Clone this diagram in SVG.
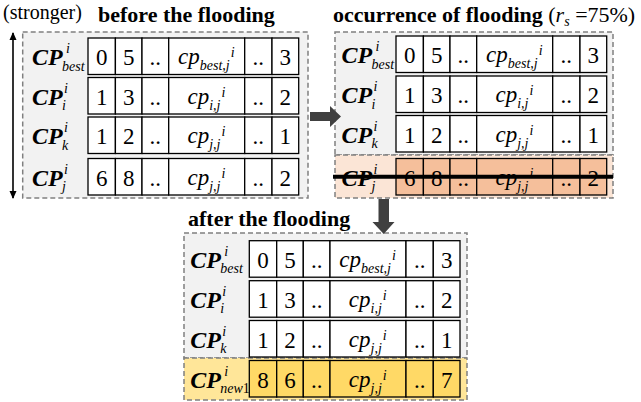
<svg xmlns="http://www.w3.org/2000/svg" xmlns:xlink="http://www.w3.org/1999/xlink" width="641" height="402" viewBox="0 0 641 402">
<style>
text{font-family:"Liberation Serif","Times New Roman",serif;fill:#000}
.t{font-size:22px;font-weight:bold}
.r{font-size:20px;font-weight:normal}
.n{font-size:23px;text-anchor:middle;font-weight:normal}
.CP{font-size:24px;font-weight:bold;font-style:italic}
.s{font-size:14px;font-style:italic;font-weight:normal}
.it{font-size:23px;font-style:italic;font-weight:normal}
.ss{font-size:14px}
.box{stroke:#808080;stroke-width:1.5;stroke-dasharray:5 3}
.ar{fill:#404040}
</style>
<defs>
<g id="cells" stroke="#000" stroke-width="1.3">
<rect x="0" y="0" width="27.4" height="36.5"/>
<rect x="27.4" y="0" width="26.6" height="36.5"/>
<rect x="54" y="0" width="26.7" height="36.5"/>
<rect x="80.7" y="0" width="76" height="36.5"/>
<rect x="156.7" y="0" width="27.3" height="36.5"/>
<rect x="184" y="0" width="26.7" height="36.5"/>
</g>
<marker id="ah" viewBox="0 0 8 8" refX="7" refY="4" markerWidth="8" markerHeight="8" markerUnits="userSpaceOnUse" orient="auto-start-reverse"><path d="M0,0.5 L8,4 L0,7.5 Z" fill="#000"/></marker>
</defs>

<text class="r" x="3" y="19">(stronger)</text>
<text class="t" x="98" y="22">before the flooding</text>
<text class="t" x="333" y="22">occurrence of flooding <tspan font-weight="normal">(<tspan font-style="italic">r</tspan><tspan font-style="italic" font-size="14" dy="4">s</tspan><tspan dy="-4"> =75%)</tspan></tspan></text>
<text class="t" x="188" y="226">after the flooding</text>

<g id="panel-before">
<rect class="box" x="22.7" y="32" width="285.3" height="166" fill="#f2f2f2"/>
<g id="b-best" transform="translate(88,38)">
<use xlink:href="#cells" fill="#fff"/>
<text class="CP" x="-56" y="27">CP</text><text class="s" x="-22" y="15">i</text><text class="s" x="-26" y="32.5">best</text>
<text class="n" x="13.7" y="27">0</text><text class="n" x="40.7" y="27">5</text><text class="n" x="67.35" y="27">..</text>
<text class="it" x="90" y="26">cp<tspan class="ss" dy="6">best,j</tspan><tspan class="ss" dx="1" dy="-13">i</tspan></text>
<text class="n" x="170.35" y="27">..</text><text class="n" x="197.35" y="27">3</text>
</g>
<g id="b-i" transform="translate(88,77.5)">
<use xlink:href="#cells" fill="#fff"/>
<text class="CP" x="-56" y="27">CP</text><text class="s" x="-24" y="15">i</text><text class="s" x="-26" y="32.5">i</text>
<text class="n" x="13.7" y="27">1</text><text class="n" x="40.7" y="27">3</text><text class="n" x="67.35" y="27">..</text>
<text class="it" x="99.5" y="26">cp<tspan class="ss" dy="6">i,j</tspan><tspan class="ss" dx="1" dy="-13">i</tspan></text>
<text class="n" x="170.35" y="27">..</text><text class="n" x="197.35" y="27">2</text>
</g>
<g id="b-k" transform="translate(88,117)">
<use xlink:href="#cells" fill="#fff"/>
<text class="CP" x="-56" y="27">CP</text><text class="s" x="-24" y="15">i</text><text class="s" x="-26" y="32.5">k</text>
<text class="n" x="13.7" y="27">1</text><text class="n" x="40.7" y="27">2</text><text class="n" x="67.35" y="27">..</text>
<text class="it" x="99.5" y="26">cp<tspan class="ss" dy="6">j,j</tspan><tspan class="ss" dx="1" dy="-13">i</tspan></text>
<text class="n" x="170.35" y="27">..</text><text class="n" x="197.35" y="27">1</text>
</g>
<g id="b-j" transform="translate(88,158.5)">
<use xlink:href="#cells" fill="#fff"/>
<text class="CP" x="-56" y="27">CP</text><text class="s" x="-24" y="15">i</text><text class="s" x="-26" y="32.5">j</text>
<text class="n" x="13.7" y="27">6</text><text class="n" x="40.7" y="27">8</text><text class="n" x="67.35" y="27">..</text>
<text class="it" x="99.5" y="26">cp<tspan class="ss" dy="6">j,j</tspan><tspan class="ss" dx="1" dy="-13">i</tspan></text>
<text class="n" x="170.35" y="27">..</text><text class="n" x="197.35" y="27">2</text>
</g>
</g>

<g id="panel-occurrence">
<rect class="box" x="335" y="32" width="278" height="123" fill="#f2f2f2"/>
<rect class="box" x="335" y="155" width="278" height="43" fill="#fbe5d6"/>
<g id="o-best" transform="translate(396,36)">
<use xlink:href="#cells" fill="#fff"/>
<text class="CP" x="-54.5" y="27">CP</text><text class="s" x="-20.5" y="15">i</text><text class="s" x="-24.5" y="32.5">best</text>
<text class="n" x="13.7" y="27">0</text><text class="n" x="40.7" y="27">5</text><text class="n" x="67.35" y="27">..</text>
<text class="it" x="90" y="26">cp<tspan class="ss" dy="6">best,j</tspan><tspan class="ss" dx="1" dy="-13">i</tspan></text>
<text class="n" x="170.35" y="27">..</text><text class="n" x="197.35" y="27">3</text>
</g>
<g id="o-i" transform="translate(396,76)">
<use xlink:href="#cells" fill="#fff"/>
<text class="CP" x="-54.5" y="27">CP</text><text class="s" x="-22.5" y="15">i</text><text class="s" x="-24.5" y="32.5">i</text>
<text class="n" x="13.7" y="27">1</text><text class="n" x="40.7" y="27">3</text><text class="n" x="67.35" y="27">..</text>
<text class="it" x="99.5" y="26">cp<tspan class="ss" dy="6">i,j</tspan><tspan class="ss" dx="1" dy="-13">i</tspan></text>
<text class="n" x="170.35" y="27">..</text><text class="n" x="197.35" y="27">2</text>
</g>
<g id="o-k" transform="translate(396,115.5)">
<use xlink:href="#cells" fill="#fff"/>
<text class="CP" x="-54.5" y="27">CP</text><text class="s" x="-22.5" y="15">i</text><text class="s" x="-24.5" y="32.5">k</text>
<text class="n" x="13.7" y="27">1</text><text class="n" x="40.7" y="27">2</text><text class="n" x="67.35" y="27">..</text>
<text class="it" x="99.5" y="26">cp<tspan class="ss" dy="6">j,j</tspan><tspan class="ss" dx="1" dy="-13">i</tspan></text>
<text class="n" x="170.35" y="27">..</text><text class="n" x="197.35" y="27">1</text>
</g>
<g id="o-j" transform="translate(396,158.5)">
<use xlink:href="#cells" fill="#f5bf9b"/>
<text class="CP" x="-54.5" y="27">CP</text><text class="s" x="-22.5" y="15">i</text><text class="s" x="-24.5" y="32.5">j</text>
<text class="n" x="13.7" y="27">6</text><text class="n" x="40.7" y="27">8</text><text class="n" x="67.35" y="27">..</text>
<text class="it" x="99.5" y="26">cp<tspan class="ss" dy="6">j,j</tspan><tspan class="ss" dx="1" dy="-13">i</tspan></text>
<text class="n" x="170.35" y="27">..</text><text class="n" x="197.35" y="27">2</text>
<line x1="-63" y1="18.2" x2="217" y2="18.2" stroke="#000" stroke-width="4"/>
</g>
</g>

<g id="panel-after">
<rect class="box" x="184" y="233" width="283" height="125" fill="#f2f2f2"/>
<rect class="box" x="184" y="358" width="283" height="42" fill="#ffe699"/>
<g id="a-best" transform="translate(249.3,240.7)">
<use xlink:href="#cells" fill="#fff"/>
<text class="CP" x="-59" y="27">CP</text><text class="s" x="-25" y="15">i</text><text class="s" x="-29" y="32.5">best</text>
<text class="n" x="13.7" y="27">0</text><text class="n" x="40.7" y="27">5</text><text class="n" x="67.35" y="27">..</text>
<text class="it" x="90" y="26">cp<tspan class="ss" dy="6">best,j</tspan><tspan class="ss" dx="1" dy="-13">i</tspan></text>
<text class="n" x="170.35" y="27">..</text><text class="n" x="197.35" y="27">3</text>
</g>
<g id="a-i" transform="translate(249.3,280.7)">
<use xlink:href="#cells" fill="#fff"/>
<text class="CP" x="-59" y="27">CP</text><text class="s" x="-27" y="15">i</text><text class="s" x="-29" y="32.5">i</text>
<text class="n" x="13.7" y="27">1</text><text class="n" x="40.7" y="27">3</text><text class="n" x="67.35" y="27">..</text>
<text class="it" x="99.5" y="26">cp<tspan class="ss" dy="6">i,j</tspan><tspan class="ss" dx="1" dy="-13">i</tspan></text>
<text class="n" x="170.35" y="27">..</text><text class="n" x="197.35" y="27">2</text>
</g>
<g id="a-k" transform="translate(249.3,320.5)">
<use xlink:href="#cells" fill="#fff"/>
<text class="CP" x="-59" y="27">CP</text><text class="s" x="-27" y="15">i</text><text class="s" x="-29" y="32.5">k</text>
<text class="n" x="13.7" y="27">1</text><text class="n" x="40.7" y="27">2</text><text class="n" x="67.35" y="27">..</text>
<text class="it" x="99.5" y="26">cp<tspan class="ss" dy="6">j,j</tspan><tspan class="ss" dx="1" dy="-13">i</tspan></text>
<text class="n" x="170.35" y="27">..</text><text class="n" x="197.35" y="27">1</text>
</g>
<g id="a-new1" transform="translate(249.3,360.5)">
<use xlink:href="#cells" fill="#ffd966"/>
<text class="CP" x="-59" y="27">CP</text><text class="s" x="-25" y="15">i</text><text class="s" x="-29" y="32.5" font-size="13">new<tspan font-style="normal">1</tspan></text>
<text class="n" x="13.7" y="27">8</text><text class="n" x="40.7" y="27">6</text><text class="n" x="67.35" y="27">..</text>
<text class="it" x="99.5" y="26">cp<tspan class="ss" dy="6">j,j</tspan><tspan class="ss" dx="1" dy="-13">i</tspan></text>
<text class="n" x="170.35" y="27">..</text><text class="n" x="197.35" y="27">7</text>
</g>
</g>

<g id="connectors">
<line x1="13" y1="33" x2="13" y2="198" stroke="#000" stroke-width="1.6" marker-start="url(#ah)" marker-end="url(#ah)"/>
<polygon class="ar" points="310,112 330,112 330,106 341,116.5 330,127 330,121 310,121"/>
<polygon class="ar" points="378.5,199 389,199 389,222 394.5,222 383.7,234 372.5,222 378.5,222"/>
</g>
</svg>
